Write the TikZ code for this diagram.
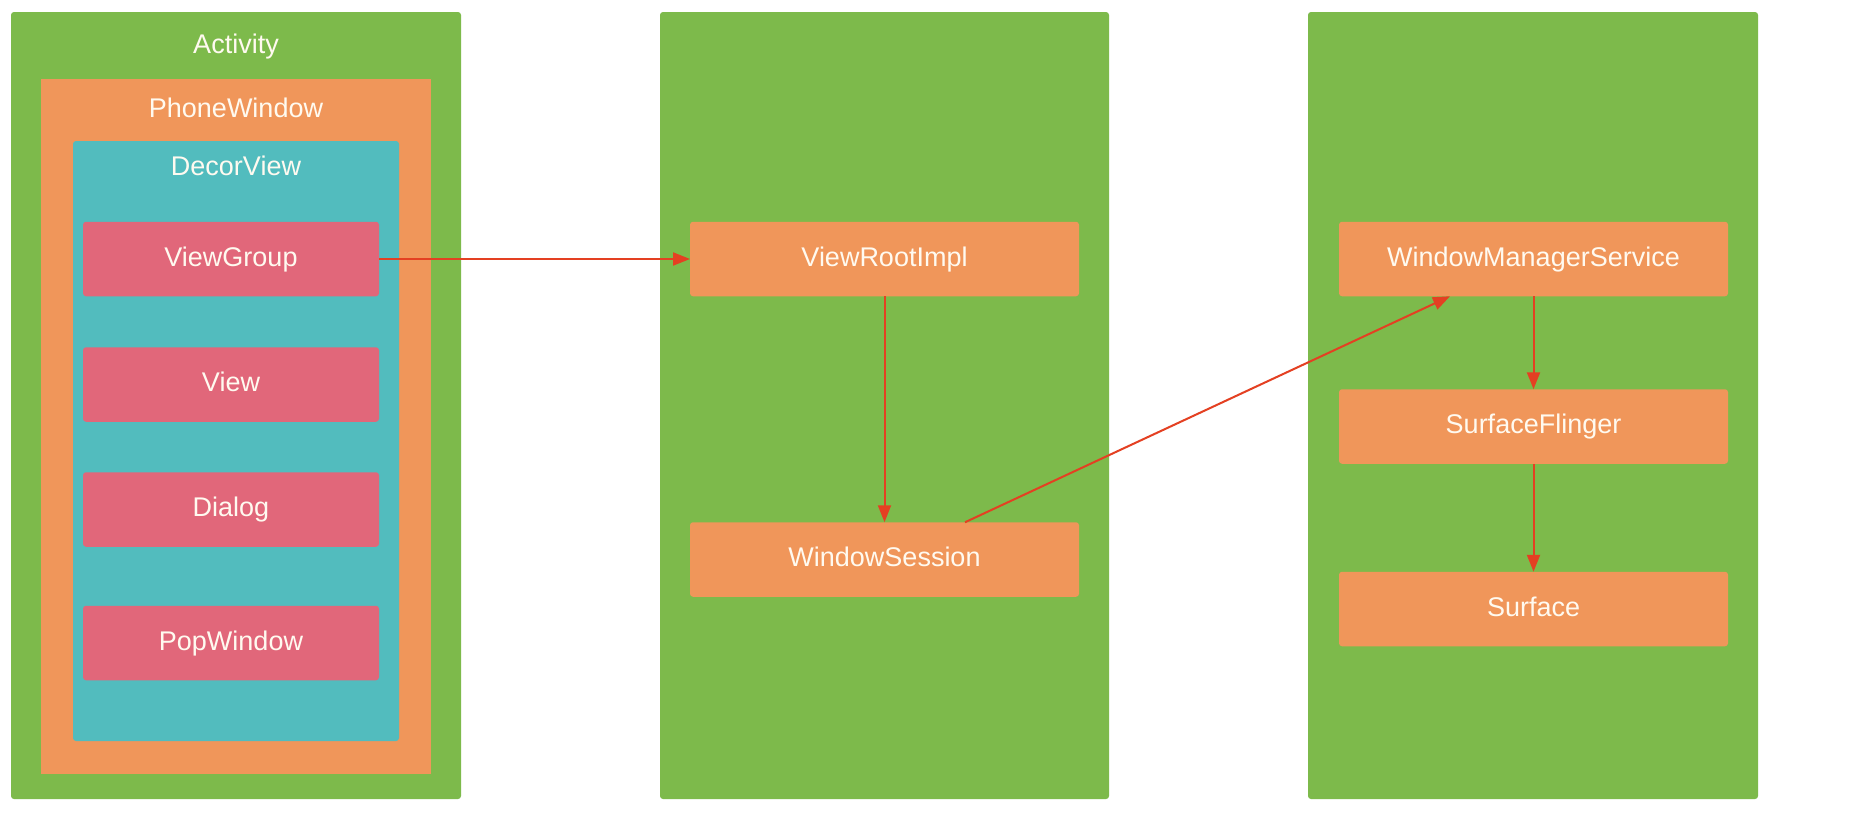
\documentclass[tikz,border=0pt]{standalone}
\usepackage{fontspec}
\setmainfont{Liberation Sans}
\usetikzlibrary{arrows.meta}
\definecolor{pgreen}{RGB}{125,186,75}
\definecolor{porange}{RGB}{240,150,90}
\definecolor{pteal}{RGB}{82,188,190}
\definecolor{ppink}{RGB}{225,103,122}
\definecolor{parrow}{RGB}{228,64,34}
\definecolor{ptext}{RGB}{255,250,240}
\begin{document}
\begin{tikzpicture}[x=0.5pt,y=-0.5pt,
  every node/.style={inner sep=0pt,outer sep=0pt,font=\fontsize{13.5}{16}\selectfont,text=ptext},
  panel/.style={fill=pgreen,rounded corners=1.5pt,minimum width=225pt,minimum height=393.5pt},
  box/.style={rounded corners=1.5pt,minimum height=37.25pt,text height=0.716em,text depth=0pt},
  pinkbox/.style={box,fill=ppink,minimum width=148pt},
  orangebox/.style={box,fill=porange,minimum width=194.5pt},
  title/.style={anchor=base},
  conn/.style={draw=parrow,line width=1pt,-{Triangle[length=8.5pt,width=6.5pt]}}]
\useasboundingbox (0,0) rectangle (1850,815);
\fill[white] (0,0) rectangle (1850,815);
% Activity column
\node[panel] (act) at (236,405.5) {};
\node[fill=porange,minimum width=195pt,minimum height=347.5pt] (pw) at (236,426.5) {};
\node[fill=pteal,rounded corners=1.5pt,minimum width=163pt,minimum height=300pt] (dv) at (236,441) {};
\node[title] (actt) at (236,53) {Activity};
\node[title] (pwt) at (236,117) {PhoneWindow};
\node[title] (dvt) at (236,175) {DecorView};
\node[pinkbox] (vg) at (231,259) {ViewGroup};
\node[pinkbox] (view) at (231,384.5) {View};
\node[pinkbox] (dlg) at (231,509.5) {Dialog};
\node[pinkbox] (pop) at (231,643) {PopWindow};
% middle column
\node[panel,minimum width=224.5pt] (mid) at (884.5,405.5) {};
\node[orangebox] (vri) at (884.5,259) {ViewRootImpl};
\node[orangebox] (ws) at (884.5,559.5) {WindowSession};
% right column
\node[panel] (right) at (1533,405.5) {};
\node[orangebox] (wms) at (1533.5,259) {WindowManagerService};
\node[orangebox] (sf) at (1533.5,426.5) {SurfaceFlinger};
\node[orangebox] (sfc) at (1533.5,609) {Surface};
% connectors
\draw[conn] (vg.east) -- (vri.west);
\draw[conn] (vri.south) -- (ws.north);
\draw[conn] ([xshift=137.5pt]ws.north west) -- ([xshift=55.5pt]wms.south west);
\draw[conn] (wms.south) -- (sf.north);
\draw[conn] (sf.south) -- (sfc.north);
\end{tikzpicture}
\end{document}
